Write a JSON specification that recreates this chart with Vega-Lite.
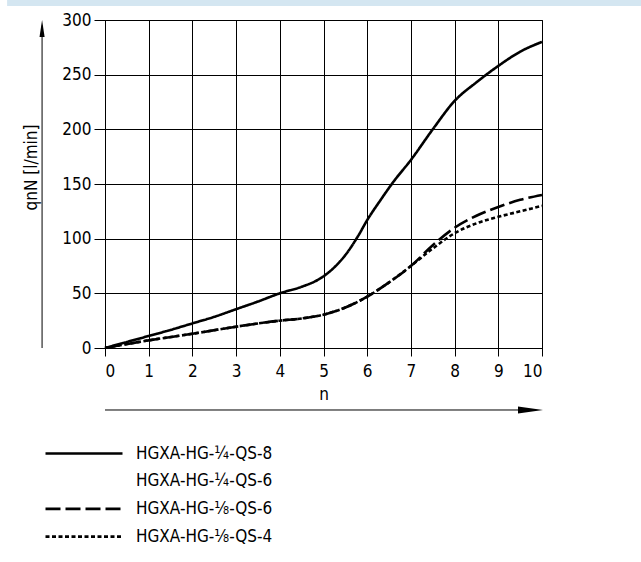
{
  "$schema": "https://vega.github.io/schema/vega-lite/v6.json",
  "width": 437,
  "height": 328,
  "autosize": {"type": "none"},
  "padding": {"left": 105, "top": 20, "right": 99, "bottom": 214},
  "background": "white",
  "config": {
    "view": {"stroke": "#000", "strokeWidth": 1},
    "axis": {
      "labelFont": "DejaVu Sans Condensed",
      "titleFont": "DejaVu Sans Condensed",
      "labelColor": "#000",
      "titleColor": "#000",
      "domainColor": "#000",
      "tickColor": "#000",
      "gridColor": "#000",
      "gridOpacity": 1,
      "gridWidth": 1,
      "labelFontSize": 17,
      "titleFontSize": 17,
      "titleFontWeight": "normal"
    }
  },
  "datasets": {
    "curves": [
      {"series": "HGXA-HG-¼-QS-8", "n": 0, "q": 0},
      {"series": "HGXA-HG-¼-QS-8", "n": 0.5, "q": 5.5},
      {"series": "HGXA-HG-¼-QS-8", "n": 1, "q": 11},
      {"series": "HGXA-HG-¼-QS-8", "n": 1.5, "q": 16.5},
      {"series": "HGXA-HG-¼-QS-8", "n": 2, "q": 22.5},
      {"series": "HGXA-HG-¼-QS-8", "n": 2.5, "q": 28.5},
      {"series": "HGXA-HG-¼-QS-8", "n": 3, "q": 35.5},
      {"series": "HGXA-HG-¼-QS-8", "n": 3.5, "q": 42.5},
      {"series": "HGXA-HG-¼-QS-8", "n": 4, "q": 50},
      {"series": "HGXA-HG-¼-QS-8", "n": 4.5, "q": 56},
      {"series": "HGXA-HG-¼-QS-8", "n": 4.9, "q": 63},
      {"series": "HGXA-HG-¼-QS-8", "n": 5.2, "q": 72},
      {"series": "HGXA-HG-¼-QS-8", "n": 5.5, "q": 85},
      {"series": "HGXA-HG-¼-QS-8", "n": 5.8, "q": 103},
      {"series": "HGXA-HG-¼-QS-8", "n": 6, "q": 117},
      {"series": "HGXA-HG-¼-QS-8", "n": 6.3, "q": 135},
      {"series": "HGXA-HG-¼-QS-8", "n": 6.6, "q": 152},
      {"series": "HGXA-HG-¼-QS-8", "n": 7, "q": 172},
      {"series": "HGXA-HG-¼-QS-8", "n": 7.5, "q": 200},
      {"series": "HGXA-HG-¼-QS-8", "n": 8, "q": 226},
      {"series": "HGXA-HG-¼-QS-8", "n": 8.5, "q": 243},
      {"series": "HGXA-HG-¼-QS-8", "n": 9, "q": 258},
      {"series": "HGXA-HG-¼-QS-8", "n": 9.5, "q": 271},
      {"series": "HGXA-HG-¼-QS-8", "n": 10, "q": 280},
      {"series": "HGXA-HG-⅛-QS-6", "n": 0, "q": 0},
      {"series": "HGXA-HG-⅛-QS-6", "n": 1, "q": 7},
      {"series": "HGXA-HG-⅛-QS-6", "n": 2, "q": 13},
      {"series": "HGXA-HG-⅛-QS-6", "n": 3, "q": 19.5},
      {"series": "HGXA-HG-⅛-QS-6", "n": 4, "q": 25},
      {"series": "HGXA-HG-⅛-QS-6", "n": 4.5, "q": 27},
      {"series": "HGXA-HG-⅛-QS-6", "n": 5, "q": 30.5},
      {"series": "HGXA-HG-⅛-QS-6", "n": 5.5, "q": 37},
      {"series": "HGXA-HG-⅛-QS-6", "n": 6, "q": 47},
      {"series": "HGXA-HG-⅛-QS-6", "n": 6.5, "q": 60},
      {"series": "HGXA-HG-⅛-QS-6", "n": 7, "q": 75},
      {"series": "HGXA-HG-⅛-QS-6", "n": 7.5, "q": 94},
      {"series": "HGXA-HG-⅛-QS-6", "n": 8, "q": 110},
      {"series": "HGXA-HG-⅛-QS-6", "n": 8.5, "q": 121},
      {"series": "HGXA-HG-⅛-QS-6", "n": 9, "q": 129},
      {"series": "HGXA-HG-⅛-QS-6", "n": 9.5, "q": 135.5},
      {"series": "HGXA-HG-⅛-QS-6", "n": 10, "q": 140},
      {"series": "HGXA-HG-⅛-QS-4", "n": 0, "q": 0},
      {"series": "HGXA-HG-⅛-QS-4", "n": 1, "q": 7},
      {"series": "HGXA-HG-⅛-QS-4", "n": 2, "q": 13},
      {"series": "HGXA-HG-⅛-QS-4", "n": 3, "q": 19.5},
      {"series": "HGXA-HG-⅛-QS-4", "n": 4, "q": 25},
      {"series": "HGXA-HG-⅛-QS-4", "n": 4.5, "q": 27},
      {"series": "HGXA-HG-⅛-QS-4", "n": 5, "q": 30.5},
      {"series": "HGXA-HG-⅛-QS-4", "n": 5.5, "q": 37},
      {"series": "HGXA-HG-⅛-QS-4", "n": 6, "q": 47},
      {"series": "HGXA-HG-⅛-QS-4", "n": 6.5, "q": 60},
      {"series": "HGXA-HG-⅛-QS-4", "n": 7, "q": 75},
      {"series": "HGXA-HG-⅛-QS-4", "n": 7.5, "q": 91},
      {"series": "HGXA-HG-⅛-QS-4", "n": 8, "q": 105},
      {"series": "HGXA-HG-⅛-QS-4", "n": 8.5, "q": 114},
      {"series": "HGXA-HG-⅛-QS-4", "n": 9, "q": 120},
      {"series": "HGXA-HG-⅛-QS-4", "n": 9.5, "q": 125},
      {"series": "HGXA-HG-⅛-QS-4", "n": 10, "q": 130}
    ],
    "one": [{"k": 1}]
  },
  "layer": [
    {
      "data": {"name": "one"},
      "mark": {"type": "rect", "color": "#d4e6f1", "clip": false},
      "encoding": {
        "x": {"datum": -2.24, "type": "quantitative", "scale": {"domain": [0, 10], "nice": false, "zero": false}},
        "x2": {"datum": 12.3},
        "y": {"datum": 318.5, "type": "quantitative", "scale": {"domain": [0, 300], "nice": false, "zero": false}},
        "y2": {"datum": 312.8}
      }
    },
    {
      "data": {"name": "curves"},
      "mark": {"type": "line", "strokeWidth": 2.6, "interpolate": "monotone", "clip": false},
      "encoding": {
        "x": {
          "field": "n", "type": "quantitative",
          "scale": {"domain": [0, 10], "nice": false, "zero": false},
          "axis": {
            "values": [0,1,2,3,4,5,6,7,8,9,10],
            "title": "n",
            "tickSize": 8,
            "labelPadding": 7,
            "titlePadding": 7,
            "grid": true
          }
        },
        "y": {
          "field": "q", "type": "quantitative",
          "scale": {"domain": [0, 300], "nice": false, "zero": false},
          "axis": {
            "values": [0,50,100,150,200,250,300],
            "title": "qnN [l/min]",
            "tickSize": 11,
            "labelPadding": 3,
            "titleX": -74,
            "titleY": 147,
            "titleAngle": -90,
            "titleAlign": "center",
            "titleBaseline": "middle",
            "grid": true
          }
        },
        "color": {
          "field": "series", "type": "nominal",
          "scale": {
            "domain": ["HGXA-HG-¼-QS-8", "HGXA-HG-¼-QS-6", "HGXA-HG-⅛-QS-6", "HGXA-HG-⅛-QS-4"],
            "range": ["#000000", "transparent", "#000000", "#000000"]
          },
          "legend": {
            "title": null,
            "orient": "none",
            "legendX": -68,
            "legendY": 425,
            "symbolType": "M0,0H15.4",
            "symbolSize": 100,
            "symbolStrokeWidth": 2.6,
            "labelFont": "DejaVu Sans Condensed",
            "labelFontSize": 17,
            "labelColor": "#000",
            "labelOffset": 82,
            "rowPadding": 9.7
          }
        },
        "strokeDash": {
          "field": "series", "type": "nominal",
          "scale": {
            "domain": ["HGXA-HG-¼-QS-8", "HGXA-HG-¼-QS-6", "HGXA-HG-⅛-QS-6", "HGXA-HG-⅛-QS-4"],
            "range": [[1, 0], [1, 0], [15, 5], [4, 2.5]]
          },
          "legend": null
        }
      }
    },
    {
      "data": {"name": "one"},
      "mark": {"type": "rule", "color": "#000", "strokeWidth": 1, "clip": false},
      "encoding": {
        "x": {"datum": -1.44, "type": "quantitative"},
        "y": {"datum": 0, "type": "quantitative"},
        "y2": {"datum": 295}
      }
    },
    {
      "data": {"name": "one"},
      "mark": {"type": "rule", "color": "#000", "strokeWidth": 1, "clip": false},
      "encoding": {
        "y": {"datum": -56.7, "type": "quantitative"},
        "x": {"datum": 0, "type": "quantitative"},
        "x2": {"datum": 9.6}
      }
    },
    {
      "data": {"name": "one"},
      "mark": {"type": "point", "shape": "M0,-1L0.3,1L-0.3,1Z", "size": 289, "filled": true, "color": "#000", "opacity": 1, "clip": false},
      "encoding": {
        "x": {"datum": -1.44, "type": "quantitative"},
        "y": {"datum": 292.2, "type": "quantitative"}
      }
    },
    {
      "data": {"name": "one"},
      "mark": {"type": "point", "shape": "M1,0L-1,-0.28L-1,0.28Z", "size": 625, "filled": true, "color": "#000", "opacity": 1, "clip": false},
      "encoding": {
        "x": {"datum": 9.737, "type": "quantitative"},
        "y": {"datum": -56.7, "type": "quantitative"}
      }
    }
  ]
}
